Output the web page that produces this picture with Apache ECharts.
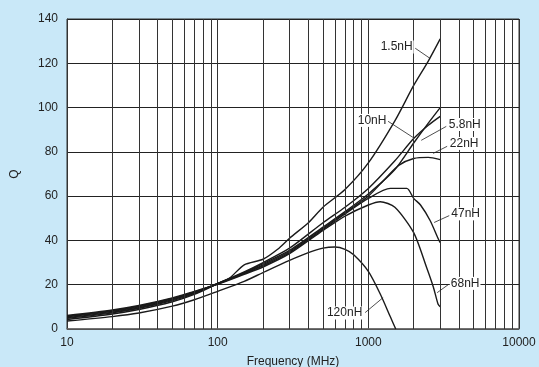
<!DOCTYPE html>
<html>
<head>
<meta charset="utf-8">
<script src="https://cdn.jsdelivr.net/npm/echarts@6/dist/echarts.min.js"></script>
<style>
html,body{margin:0;padding:0;background:#c9e8f8;}
#c{width:539px;height:367px;}
</style>
</head>
<body>
<div id="c"></div>
<script>
// ---- data ----
const xTicks = [10, 100, 1000, 10000];
const minorTicks = [20,30,40,50,60,70,80,90,200,300,400,500,600,700,800,900,2000,3000,4000,5000,6000,7000,8000,9000];

const f_1_5 = [10,20,30,50,70,100,120,150,200,250,300,400,500,700,1000,1500,2000,2500,3000];
const q_1_5 = [4.3,6.8,8.8,12.3,15.6,20.5,23,29,31.5,36,41,48,55,63,75,94,110,121,131];

const f_5_8 = [10,20,30,50,70,100,150,200,300,500,700,1000,1500,2000,2500,3000];
const q_5_8 = [4.8,7.3,9.3,12.8,16,20.5,25.5,29.5,35.5,46,53,61,72,84,93,100];

const f_10 = [10,20,30,50,70,100,150,200,300,500,700,1000,1500,2000,2500,3000];
const q_10 = [5.1,7.6,9.6,13.2,16.3,20.6,25.8,30,36.5,48,55,63.5,76,86,92,96];

const f_22 = [10,20,30,50,70,100,150,200,300,500,700,1000,1300,1600,2000,2500,3000];
const q_22 = [5.5,8,10,13.6,16.6,20.5,25.3,29,35,45.5,52.5,60,68,74,77,77.5,76.5];

const f_47 = [10,20,30,50,70,100,150,200,300,500,700,1000,1400,1800,2000,2220,2570,2900,3000];
const q_47 = [5.8,8.3,10.3,13.8,16.8,20.3,25,28.5,34.5,45,52,59,63.5,63.5,59,56,49,41,39];

const f_68 = [10,20,30,50,70,100,150,200,300,500,700,1000,1200,1500,2000,2430,2700,2900,3000];
const q_68 = [6.1,8.6,10.6,14,17,20.2,24.7,28,34,44.5,51,56,57.5,55,43.5,28,19,11.3,10];

const f_120 = [10,20,30,50,70,100,150,200,300,400,500,600,700,800,1000,1200,1400,1520];
const q_120 = [3.6,5.6,7.2,10.3,13.2,17,21.5,25.5,31,34.5,36.5,37,36,33.5,26,15.8,5.5,0];

const names = ['1.5nH','5.8nH','10nH','22nH','47nH','68nH','120nH'];
const freqs = [f_1_5,f_5_8,f_10,f_22,f_47,f_68,f_120];
const qs    = [q_1_5,q_5_8,q_10,q_22,q_47,q_68,q_120];

// label annotations in data coordinates: text point, leader start, leader end
const annText = {'1.5nH':[1542,127.4],'10nH':[1059,94.2],'5.8nH':[4365,92.4],'22nH':[4326,83.8],'47nH':[4426,52],'68nH':[4390,20.6],'120nH':[696,7.2]};
const annFrom = {'1.5nH':[2047,126.8],'10nH':[1352,93.8],'5.8nH':[3290,91.5],'22nH':[3336,82.5],'47nH':[3443,51.2],'68nH':[3387,20],'120nH':[952,7.4]};
const annTo   = {'1.5nH':[2570,122.2],'10nH':[1982,86.5],'5.8nH':[2244,85.2],'22nH':[2692,79.3],'47nH':[2734,48.1],'68nH':[2863,16.4],'120nH':[1254,14.2]};

// ---- chart ----
const FONT = "'Liberation Sans', Arial, sans-serif";
const chart = echarts.init(document.getElementById('c'), null, {renderer:'canvas'});

const series = [{
  type:'line', data:[], silent:true, z:1,
  markLine:{
    silent:true, symbol:['none','none'], animation:false,
    label:{show:false},
    lineStyle:{color:'#333', width:1, type:'solid'},
    data: minorTicks.map(v => ({xAxis:v}))
  }
}];

names.forEach((n,i) => {
  series.push({
    name:n, type:'line', smooth:0.25, showSymbol:false, symbol:'none', z:3,
    lineStyle:{color:'#1a1a1a', width:1.4},
    data: freqs[i].map((f,j) => [f, qs[i][j]]),
    markLine:{
      silent:true, symbol:['none','none'], animation:false, label:{show:false},
      lineStyle:{color:'#222', width:0.8, type:'solid'},
      data:[[{coord:annFrom[n]},{coord:annTo[n]}]]
    },
    markPoint:{
      silent:true, animation:false, symbol:'rect', symbolSize:0,
      itemStyle:{color:'rgba(0,0,0,0)'},
      label:{show:true, position:'inside', formatter:n, color:'#222', fontSize:12, fontFamily:FONT,
             backgroundColor:'#fff', padding:[1,1,0,1]},
      data:[{coord:annText[n]}]
    }
  });
});

chart.setOption({
  animation:false,
  backgroundColor:'#c9e8f8',
  grid:{left:67, top:19, right:20, bottom:38, outerBoundsMode:'none', containLabel:false,
        show:true, backgroundColor:'#fff', borderColor:'#333', borderWidth:1},
  xAxis:{
    type:'log', logBase:10, min:xTicks[0], max:xTicks[xTicks.length-1],
    name:'Frequency (MHz)', nameLocation:'middle', nameGap:27,
    nameTextStyle:{color:'#222', fontSize:12, fontFamily:FONT},
    axisLine:{show:true, lineStyle:{color:'#666', width:1.5}},
    axisTick:{show:false},
    axisLabel:{color:'#222', fontSize:12, fontFamily:FONT, margin:8, formatter: v => String(v)},
    splitLine:{show:true, lineStyle:{color:'#333', width:1}},
    minorTick:{show:false}, minorSplitLine:{show:false}
  },
  yAxis:{
    type:'value', min:0, max:140, interval:20,
    name:'Q', nameLocation:'middle', nameGap:46, nameRotate:90,
    nameTextStyle:{color:'#222', fontSize:12, fontFamily:FONT},
    axisLine:{show:true, lineStyle:{color:'#333', width:1}},
    axisTick:{show:false},
    axisLabel:{color:'#222', fontSize:12, fontFamily:FONT, margin:9},
    splitLine:{show:true, lineStyle:{color:'#222', width:1}}
  },
  series: series
});
</script>
</body>
</html>
